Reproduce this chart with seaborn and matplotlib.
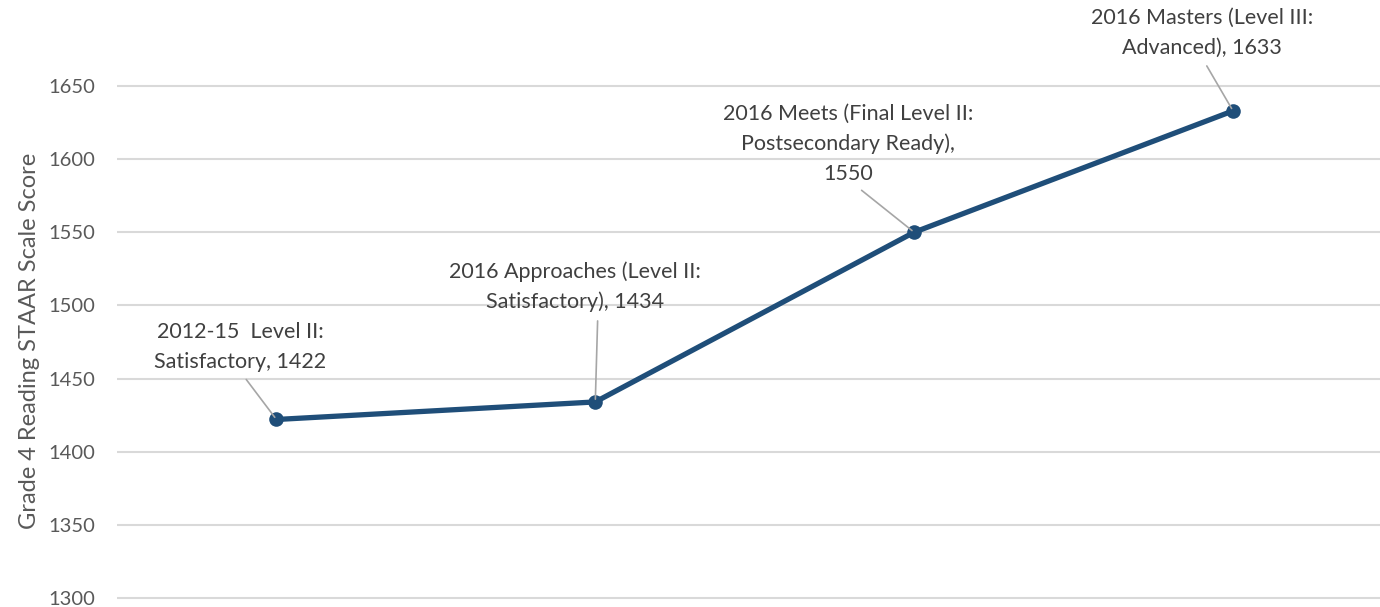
import matplotlib
matplotlib.use("Agg")
import matplotlib.pyplot as plt
import seaborn as sns
import pandas as pd

categories = ["2012-15  Level II:\nSatisfactory",
              "2016 Approaches (Level II:\nSatisfactory)",
              "2016 Meets (Final Level II:\nPostsecondary Ready)",
              "2016 Masters (Level III:\nAdvanced)"]
scores = [1422, 1434, 1550, 1633]
y_ticks = [1300, 1350, 1400, 1450, 1500, 1550, 1600, 1650]
y_label = "Grade 4 Reading STAAR Scale Score"

# label text centre (data coords) and leader anchor on the label box
label_pos = [(-0.113, 1471.6), (0.937, 1512.9), (1.793, 1610.7), (2.903, 1686.2)]
label_text = [categories[0] + ", " + str(scores[0]),
              categories[1] + ", " + str(scores[1]),
              categories[2] + ",\n" + str(scores[2]),
              categories[3] + ", " + str(scores[3])]
leader_rel = [0.5, 0.59, 0.52, 0.5]

sns.set_theme(style="white")
plt.rcParams['font.family'] = ['Lato', 'DejaVu Sans']

df = pd.DataFrame({"cat": range(len(scores)), "score": scores})

fig = plt.figure(figsize=(13.8, 6.07), dpi=100)
ax = fig.add_axes([117 / 1380, 0, 1 - 117 / 1380, 1])

line_color = "#1f4e79"
sns.lineplot(data=df, x="cat", y="score", ax=ax, color=line_color, linewidth=3.8,
             marker="o", markersize=10.5, markeredgewidth=0, sort=False, zorder=3)

ax.set_xlim(-0.5, 3.461)
ax.set_ylim(1293.8, 1708.8)
ax.set_yticks(y_ticks)
ax.set_xticks([])
ax.set_xlabel("")
ax.grid(axis="y", color="#d9d9d9", linewidth=1.5)
ax.set_axisbelow(True)
for s in ax.spines.values():
    s.set_visible(False)
ax.tick_params(axis="y", length=0, pad=16, labelsize=14.5, labelcolor="#595959")
ax.set_ylabel(y_label, fontsize=17, color="#595959")
ax.yaxis.set_label_coords(-0.061, 0.438)

for i, (txt, (tx, ty)) in enumerate(zip(label_text, label_pos)):
    ax.annotate(txt, xy=(i, scores[i]), xytext=(tx, ty), textcoords="data",
                ha="center", va="center", fontsize=15.5, color="#404040",
                linespacing=1.6, zorder=4,
                arrowprops=dict(arrowstyle="-", color="#a6a6a6", lw=1.2,
                                relpos=(leader_rel[i], 0), shrinkA=4, shrinkB=2))

fig.savefig("out.png", dpi=100)
